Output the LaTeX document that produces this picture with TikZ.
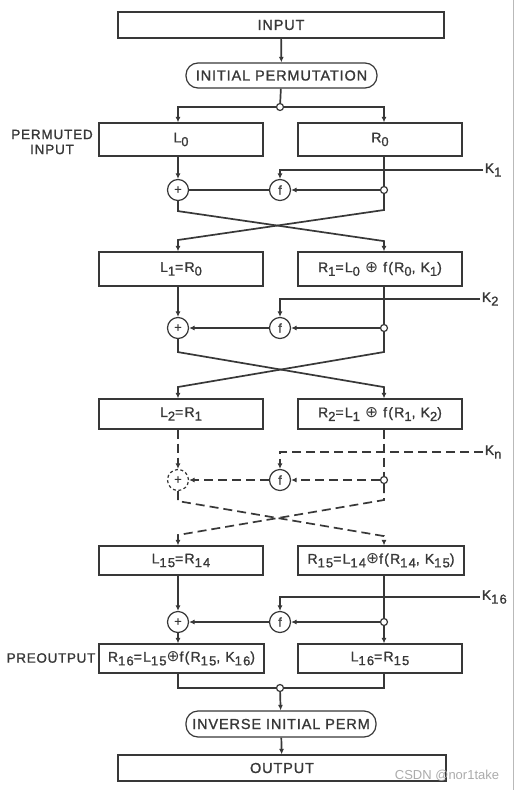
\documentclass[tikz,border=0pt]{standalone}
\usepackage{fontspec}
\setmainfont{Liberation Sans}[FakeBold=1.2]
\newfontfamily\symfont{DejaVu Sans}
\usetikzlibrary{arrows.meta}
\definecolor{ink}{HTML}{383838}
% lowered index, as in the scan
\newcommand\lw[1]{\raisebox{-0.5ex}{\fontsize{13}{13}\selectfont #1}}
\newcommand\xo{{\symfont\fontsize{15.5}{15}\selectfont ⊕}}
\begin{document}
\begin{tikzpicture}[x=1pt, y=-1pt, line width=1.7pt, color=ink,
  font=\fontsize{14}{15}\selectfont\addfontfeatures{LetterSpace=9},
  box/.style={draw, line width=1.2pt, minimum width=164pt, inner sep=0pt},
  perm/.style={draw, line width=1.2pt, rounded corners=12pt, minimum width=191pt,
    minimum height=25pt, inner sep=0pt, font=\fontsize{14.5}{16}\selectfont\addfontfeatures{LetterSpace=6}},
  caps/.style={font=\fontsize{14.5}{16}\selectfont\addfontfeatures{LetterSpace=6}},
  op/.style={circle, draw, line width=1.2pt, minimum size=21pt, inner sep=0pt, font=\fontsize{12.5}{12}\selectfont},
  tap/.style={circle, draw, line width=1.2pt, fill=white, minimum size=7pt, inner sep=0pt},
  arr/.style={-{Latex[length=5.5pt,width=5pt]}},
  broken/.style={dash pattern=on 9pt off 5pt}]
  \useasboundingbox (0,0) rectangle (515,790);
  \fill[white] (0,0) rectangle (515,790);
  \draw[gray!55, line width=0.8pt] (513,0) -- (513,790);

  \node[box, caps, minimum width=326pt, minimum height=26pt] (in) at (281,25) {INPUT};
  \node[perm] (ip) at (281.5,75.5) {INITIAL PERMUTATION};
  \node[tap] (split) at (280,107) {};
  \node[box, minimum height=33pt] (L0) at (181,139.5) {L\lw{0}};
  \node[box, minimum height=33pt] (R0) at (380,139.5) {R\lw{0}};
  \node[align=center, font=\fontsize{13.5}{15}\selectfont\addfontfeatures{LetterSpace=6}] (pin) at (52,142) {PERMUTED\\INPUT};
  \draw[arr] (in) -- (ip);
  \draw (ip) -- (split);
  \draw[arr] (split) -| (L0.north -| 178,0);
  \draw[arr] (split) -| (R0.north -| 384,0);

  % round 1
  \node[op] (x1) at (178,190) {+};
  \node[op] (f1) at (280,190) {f};
  \node[tap] (t1) at (384,190) {};
  \node[anchor=west, inner sep=1pt] (k1) at (483,170) {K\lw{1}};
  \draw[arr] (L0.south -| x1) -- (x1);
  \draw (R0.south -| t1) -- (t1);
  \draw[arr] (k1.west) -| (f1);
  \draw[arr] (t1) -- (f1);
  \draw (f1) -- (x1);
  \node[box, minimum height=34pt] (L1) at (181,269) {L\lw{1}=R\lw{0}};
  \node[box, minimum height=34pt] (R1) at (380,269) {R\lw{1}=L\lw{0} \xo{} f(R\lw{0}, K\lw{1})};
  \draw[arr] (x1.south) -- ++(0,10) -- ++(206,30) -- (R1.north -| t1);
  \draw[arr] (t1) -- ++(0,20) -- ++(-206,30) -- (L1.north -| x1);

  % round 2
  \node[op] (x2) at (178,328) {+};
  \node[op] (f2) at (280,328) {f};
  \node[tap] (t2) at (384,328) {};
  \node[anchor=west, inner sep=1pt] (k2) at (480,299) {K\lw{2}};
  \draw[arr] (L1.south -| x2) -- (x2);
  \draw (R1.south -| t2) -- (t2);
  \draw[arr] (k2.west) -| (f2);
  \draw[arr] (t2) -- (f2);
  \draw[arr] (f2) -- (x2);
  \node[box, minimum height=30pt] (L2) at (181,414) {L\lw{2}=R\lw{1}};
  \node[box, minimum height=30pt] (R2) at (380,414) {R\lw{2}=L\lw{1} \xo{} f(R\lw{1}, K\lw{2})};
  \draw[arr] (x2.south) -- ++(0,13) -- ++(206,35) -- (R2.north -| t2);
  \draw[arr] (t2) -- ++(0,24) -- ++(-206,35) -- (L2.north -| x2);

  % round n
  \node[op, dash pattern=on 3pt off 2.5pt] (xn) at (178,480) {+};
  \node[op] (fn) at (280,480) {f};
  \node[tap] (tn) at (384,480) {};
  \node[anchor=west, inner sep=1pt] (kn) at (483,452) {K\lw{n}};
  \draw[arr, broken] (L2.south -| xn) -- (xn);
  \draw[broken] (R2.south -| tn) -- (tn);
  \draw[arr, broken] (kn.west) -| (fn);
  \draw[arr, broken] (tn) -- (fn);
  \draw[arr, broken] (fn) -- (xn);
  \node[box, minimum height=29pt] (L15) at (181,560.5) {L\lw{15}=R\lw{14}};
  \node[box, minimum height=29pt, minimum width=166pt] (R15) at (381,560.5) {R\lw{15}=L\lw{14}\xo{}f(R\lw{14}, K\lw{15})};
  \draw[arr, broken] (xn.south) -- ++(0,10) -- ++(206,35) -- (R15.north -| tn);
  \draw[arr, broken] (tn) -- ++(0,20) -- ++(-206,35) -- (L15.north -| xn);

  % round 16
  \node[op] (x16) at (178,622) {+};
  \node[op] (f16) at (280,622) {f};
  \node[tap] (t16) at (384,622) {};
  \node[anchor=west, inner sep=1pt] (k16) at (480,597) {K\lw{16}};
  \draw[arr] (L15.south -| x16) -- (x16);
  \draw (R15.south -| t16) -- (t16);
  \draw[arr] (k16.west) -| (f16);
  \draw[arr] (t16) -- (f16);
  \draw[arr] (f16) -- (x16);
  \node[box, minimum height=29pt, minimum width=165pt] (R16) at (181.5,658.5) {R\lw{16}=L\lw{15}\xo{}f(R\lw{15}, K\lw{16})};
  \node[box, minimum height=29pt] (L16) at (380,658.5) {L\lw{16}=R\lw{15}};
  \node[font=\fontsize{13.5}{15}\selectfont\addfontfeatures{LetterSpace=5}] (pre) at (51,658) {PREOUTPUT};
  \draw[arr] (x16) -- (R16.north -| x16);
  \draw[arr] (t16) -- (L16.north -| t16);

  % output side
  \node[tap] (join) at (280,688) {};
  \node[perm, minimum width=190pt, minimum height=26pt] (inv) at (281,724) {INVERSE INITIAL PERM};
  \node[box, caps, minimum width=328pt, minimum height=26pt] (out) at (282,768) {OUTPUT};
  \draw (R16.south -| x16) |- (join);
  \draw (L16.south -| t16) |- (join);
  \draw[arr] (join) -- (inv);
  \draw[arr] (inv) -- (out);

  \node[text=gray!65, font=\fontsize{13}{13}\selectfont\addfontfeatures{FakeBold=0,LetterSpace=0}] (wm) at (447,776) {CSDN @nor1take};
\end{tikzpicture}
\end{document}
